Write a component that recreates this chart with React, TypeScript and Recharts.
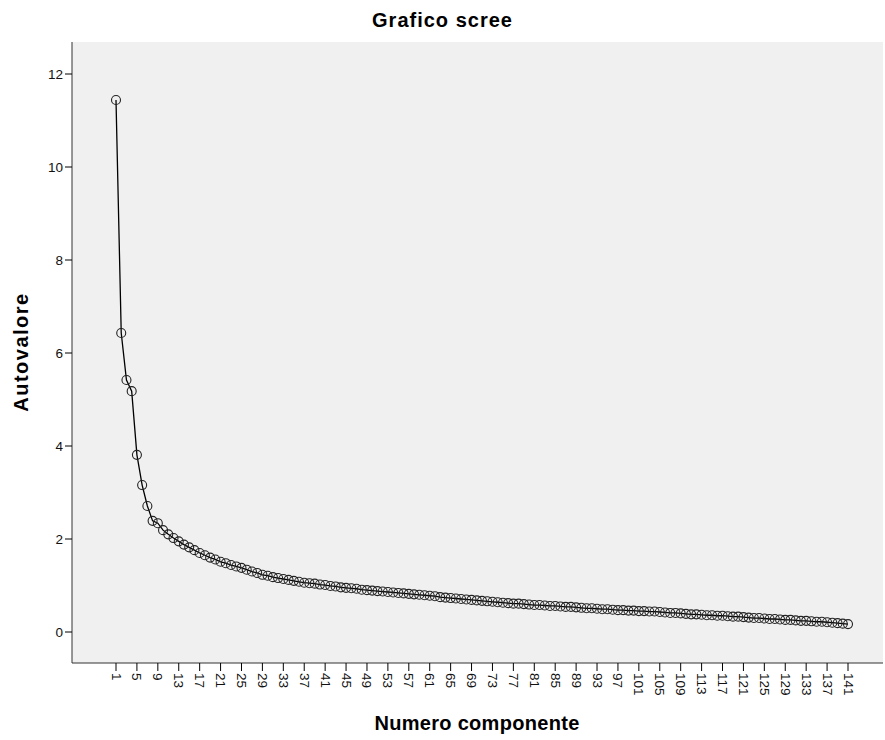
import { LineChart, Line, XAxis, YAxis, CartesianGrid } from 'recharts';

// Autovalori (componenti 1..141)
const eigenvalues = [
  11.44, 6.43, 5.42, 5.18, 3.81, 3.16, 2.71, 2.39, 2.34, 2.19,
  2.10, 2.02, 1.95, 1.88, 1.82, 1.76, 1.70, 1.65, 1.60, 1.56,
  1.51, 1.48, 1.44, 1.41, 1.38, 1.34, 1.30, 1.27, 1.23, 1.21,
  1.18, 1.16, 1.14, 1.12, 1.10, 1.08, 1.06, 1.05, 1.04, 1.02,
  1.01, 0.99, 0.98, 0.96, 0.95, 0.94, 0.93, 0.91, 0.90, 0.89,
  0.88, 0.87, 0.86, 0.85, 0.84, 0.83, 0.82, 0.81, 0.80, 0.79,
  0.78, 0.77, 0.75, 0.74, 0.73, 0.72, 0.71, 0.70, 0.69, 0.68,
  0.67, 0.66, 0.65, 0.64, 0.63, 0.62, 0.61, 0.61, 0.60, 0.59,
  0.58, 0.58, 0.57, 0.56, 0.56, 0.55, 0.54, 0.54, 0.53, 0.52,
  0.51, 0.51, 0.50, 0.49, 0.49, 0.48, 0.47, 0.47, 0.46, 0.46,
  0.45, 0.45, 0.44, 0.44, 0.43, 0.42, 0.41, 0.41, 0.40, 0.39,
  0.38, 0.38, 0.37, 0.36, 0.36, 0.35, 0.35, 0.34, 0.33, 0.33,
  0.32, 0.31, 0.30, 0.30, 0.29, 0.28, 0.28, 0.27, 0.26, 0.26,
  0.25, 0.24, 0.24, 0.23, 0.22, 0.22, 0.21, 0.20, 0.19, 0.18,
  0.17,
];

const xTicks = [
  1, 5, 9, 13, 17, 21, 25, 29, 33, 37, 41, 45, 49, 53, 57, 61, 65, 69,
  73, 77, 81, 85, 89, 93, 97, 101, 105, 109, 113, 117, 121, 125, 129, 133, 137, 141,
];
const yTicks = [0, 2, 4, 6, 8, 10, 12];

const title = 'Grafico scree';
const xTitle = 'Numero componente';
const yTitle = 'Autovalore';

const data = eigenvalues.map((v, i) => ({ comp: i + 1, value: v }));

const FONT = '"Liberation Sans", Arial, sans-serif';

const RotatedTick = (props: any) => {
  const { x, y, payload } = props;
  return (
    <text
      x={x}
      y={y}
      transform={`rotate(90, ${x}, ${y})`}
      textAnchor="start"
      dominantBaseline="central"
      fontSize={13.5}
      fontFamily={FONT}
      fill="#111"
    >
      {payload.value}
    </text>
  );
};

export default function App() {
  return (
    <div style={{ position: 'absolute', left: 0, top: 0, width: 885, height: 740, background: '#fff', fontFamily: FONT }}>
      <div style={{ position: 'absolute', left: 0, top: 9, width: 885, textAlign: 'center', fontSize: 20, letterSpacing: 1, fontWeight: 'bold', color: '#000' }}>
        {title}
      </div>
      <LineChart width={885} height={740} data={data} margin={{ top: 42, right: 2, bottom: 0, left: 0 }}>
        <CartesianGrid horizontal={false} vertical={false} fill="#f0f0f0" />
        <XAxis
          xAxisId="top"
          orientation="top"
          height={0}
          tick={false}
          tickLine={false}
          axisLine={{ stroke: '#333' }}
          type="number"
          dataKey="comp"
          domain={[1, 141]}
        />
        <YAxis
          yAxisId="right"
          orientation="right"
          width={0}
          tick={false}
          tickLine={false}
          axisLine={{ stroke: '#333' }}
          domain={[0, 12]}
        />
        <XAxis
          type="number"
          dataKey="comp"
          domain={[1, 141]}
          ticks={xTicks}
          interval={0}
          padding={{ left: 44, right: 35 }}
          height={77}
          tickSize={8}
          tickLine={{ stroke: '#000' }}
          axisLine={{ stroke: '#333' }}
          tick={<RotatedTick />}
        />
        <YAxis
          type="number"
          domain={[0, 12]}
          ticks={yTicks}
          padding={{ top: 32, bottom: 31 }}
          width={72}
          tickSize={7}
          tickLine={{ stroke: '#000' }}
          axisLine={{ stroke: '#333' }}
          tick={{ fontSize: 13.5, fill: '#111', fontFamily: FONT }}
        />
        <Line
          type="linear"
          dataKey="value"
          stroke="#000"
          strokeWidth={1.3}
          dot={{ r: 4.5, stroke: '#222', strokeWidth: 1.1, fill: 'none' }}
          activeDot={false}
          isAnimationActive={false}
        />
      </LineChart>
      <div style={{ position: 'absolute', left: 21, top: 352, transform: 'translate(-50%, -50%) rotate(-90deg)', fontSize: 20, letterSpacing: 1.5, fontWeight: 'bold', color: '#000', whiteSpace: 'nowrap' }}>
        {yTitle}
      </div>
      <div style={{ position: 'absolute', left: 477, top: 723, transform: 'translate(-50%, -50%)', fontSize: 20, letterSpacing: 0.3, fontWeight: 'bold', color: '#000', whiteSpace: 'nowrap' }}>
        {xTitle}
      </div>
    </div>
  );
}
